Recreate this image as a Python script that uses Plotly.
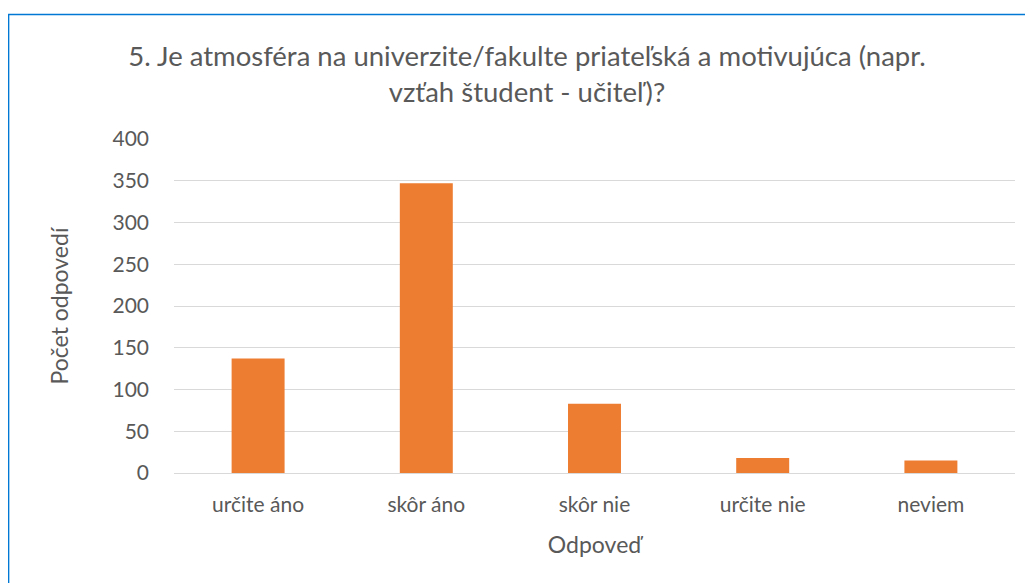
import plotly.graph_objects as go

categories = ["určite áno", "skôr áno", "skôr nie", "určite nie", "neviem"]
values = [137, 347, 83, 18, 15]
y_ticks = [0, 50, 100, 150, 200, 250, 300, 350, 400]

W, H = 1033, 583
OFF = 8  # page body margin
L, R, T, B = 174 - OFF, 1033 - 1015.5 + OFF, 139 - OFF, 583 - 473 + OFF
pw, ph = W - L - R, H - T - B

def px_x(sx):
    return (sx - OFF - L) / pw

def px_y(sy):
    return (H - B - (sy - OFF)) / ph

FONT = "Lato"
GREY = "#595959"

fig = go.Figure(go.Bar(x=categories, y=values, marker=dict(color="#ED7D31", line=dict(width=0)), width=0.315))

fig.update_layout(
    width=W, height=H,
    margin=dict(l=L, r=R, t=T, b=B, autoexpand=False),
    paper_bgcolor="white", plot_bgcolor="white",
    font=dict(family=FONT, color=GREY, size=21),
    showlegend=False,
    title=dict(
        text="5. Je atmosféra na univerzite/fakulte priateľská a motivujúca (napr.<br>vzťah študent - učiteľ)?",
        x=(527 - OFF) / W, xanchor="center", xref="container",
        y=1 - (66 - OFF) / H, yanchor="middle", yref="container",
        font=dict(family=FONT, size=27.5, color=GREY),
    ),
)
fig.update_xaxes(
    showgrid=False, showline=True, linecolor="#d9d9d9", linewidth=1,
    ticks="", ticklabelstandoff=13, tickfont=dict(size=21, color=GREY),
    title=dict(text="Odpoveď", font=dict(size=23, color=GREY), standoff=21),
)
fig.update_yaxes(
    range=[0, 400], tickvals=y_ticks, showgrid=True, gridcolor="#d9d9d9", gridwidth=1,
    zeroline=False, showline=False, ticks="", ticklabelstandoff=24,
    tickfont=dict(size=21, color=GREY),
    title=dict(text="Počet odpovedí", font=dict(size=23, color=GREY), standoff=37),
)
border = "#0078D4"
fig.add_shape(type="line", xref="paper", yref="paper", x0=px_x(8), x1=px_x(W + 20), y0=px_y(14.5), y1=px_y(14.5), line=dict(color=border, width=1.5))
fig.add_shape(type="line", xref="paper", yref="paper", x0=px_x(8.5), x1=px_x(8.5), y0=px_y(14), y1=px_y(H + 20), line=dict(color=border, width=1.5))

fig.write_html("out.html")
